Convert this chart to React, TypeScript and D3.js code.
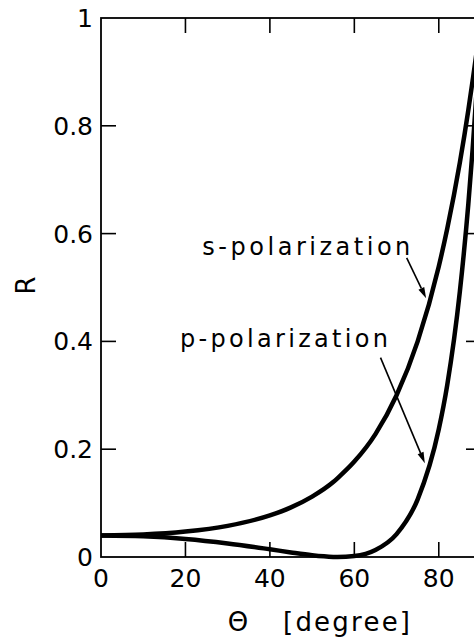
import React from "react";
import * as d3 from "d3";

const angles = [0, 10, 20, 30, 40, 45, 50, 55, 56, 60, 65, 70, 75, 80, 82, 85, 87, 88, 89, 90];
const sPolarization = [0.04, 0.0417, 0.0471, 0.0578, 0.0772, 0.092, 0.112, 0.139, 0.146, 0.177, 0.228, 0.3, 0.4, 0.539, 0.609, 0.732, 0.829, 0.883, 0.939, 1];
const pPolarization = [0.04, 0.0384, 0.0335, 0.0252, 0.0143, 0.0085, 0.0033, 0.0002, 0.0, 0.0018, 0.013, 0.0425, 0.107, 0.237, 0.319, 0.493, 0.655, 0.755, 0.869, 1];
const xTicks = [0, 20, 40, 60, 80];
const yTicks = [0, 0.2, 0.4, 0.6, 0.8, 1];
const yTickLabels = ["0", "0.2", "0.4", "0.6", "0.8", "1"];
const annotations = [
  { label: "s-polarization", textAt: [24, 0.56], from: [72.4, 0.555], tip: [77, 0.48] },
  { label: "p-polarization", textAt: [18.7, 0.39], from: [66.2, 0.37], tip: [76.7, 0.174] },
];

const W = 474;
const H = 640;
const left = 101;
const right = 481;
const top = 18;
const bottom = 557;

export default function App() {
  const x = d3.scaleLinear().domain([0, 90]).range([left, right]);
  const y = d3.scaleLinear().domain([0, 1]).range([bottom, top]);
  const line = d3
    .line<number>()
    .x((_, i) => x(angles[i]))
    .y((d) => y(d))
    .curve(d3.curveMonotoneX);

  const font = "'DejaVu Sans', sans-serif";
  const tickLen = 15;

  const arrow = (a: typeof annotations[number], i: number) => {
    const x0 = x(a.from[0]);
    const y0 = y(a.from[1]);
    const x1 = x(a.tip[0]);
    const y1 = y(a.tip[1]);
    const ang = Math.atan2(y1 - y0, x1 - x0);
    const hl = 11;
    const hw = 3.2;
    const bx = x1 - hl * Math.cos(ang);
    const by = y1 - hl * Math.sin(ang);
    const px = -Math.sin(ang) * hw;
    const py = Math.cos(ang) * hw;
    return (
      <g key={i}>
        <line x1={x0} y1={y0} x2={bx} y2={by} stroke="#000" strokeWidth={1.6} />
        <path d={`M${x1},${y1}L${bx + px},${by + py}L${bx - px},${by - py}Z`} fill="#000" />
      </g>
    );
  };

  return (
    <svg
      width={W}
      height={H}
      style={{ position: "absolute", left: 0, top: 0, background: "#fff" }}
      fontFamily={font}
    >
      <rect x={0} y={0} width={W} height={H} fill="#fff" />
      {/* frame */}
      <rect x={left} y={top} width={right - left} height={bottom - top} fill="none" stroke="#000" strokeWidth={1.8} />
      {/* x ticks bottom & top */}
      {xTicks.slice(1).map((t) => (
        <g key={"xt" + t}>
          <line x1={x(t)} x2={x(t)} y1={bottom} y2={bottom - tickLen} stroke="#000" strokeWidth={1.6} />
          <line x1={x(t)} x2={x(t)} y1={top} y2={top + tickLen} stroke="#000" strokeWidth={1.6} />
        </g>
      ))}
      {/* y ticks left & right */}
      {yTicks.slice(1, -1).map((t) => (
        <g key={"yt" + t}>
          <line x1={left} x2={left + tickLen} y1={y(t)} y2={y(t)} stroke="#000" strokeWidth={1.6} />
          <line x1={right} x2={right - tickLen} y1={y(t)} y2={y(t)} stroke="#000" strokeWidth={1.6} />
        </g>
      ))}
      {/* x tick labels */}
      {xTicks.map((t) => (
        <text key={"xl" + t} x={x(t)} y={bottom + 30} fontSize={25} textAnchor="middle" fill="#000">
          {t}
        </text>
      ))}
      {/* y tick labels */}
      {yTicks.map((t, i) => (
        <text key={"yl" + t} x={left - 8} y={y(t) + 9} fontSize={25} textAnchor="end" fill="#000">
          {yTickLabels[i]}
        </text>
      ))}
      {/* axis titles */}
      <text transform={`translate(35,${(top + bottom) / 2 - 2}) rotate(-90)`} fontSize={26} textAnchor="middle" fill="#000">
        R
      </text>
      <text x={238} y={631} fontSize={26} textAnchor="middle" fill="#000">
        Θ
      </text>
      <text x={283} y={631} fontSize={26} fill="#000" textLength={127} lengthAdjust="spacing">
        [degree]
      </text>
      {/* curves */}
      <path d={line(sPolarization) || ""} fill="none" stroke="#000" strokeWidth={4.5} strokeLinejoin="round" />
      <path d={line(pPolarization) || ""} fill="none" stroke="#000" strokeWidth={4.5} strokeLinejoin="round" />
      {/* annotations */}
      {annotations.map((a, i) => (
        <text key={"an" + i} x={x(a.textAt[0])} y={y(a.textAt[1])} fontSize={24} fill="#000" textLength={208} lengthAdjust="spacing">
          {a.label}
        </text>
      ))}
      {annotations.map(arrow)}
    </svg>
  );
}
